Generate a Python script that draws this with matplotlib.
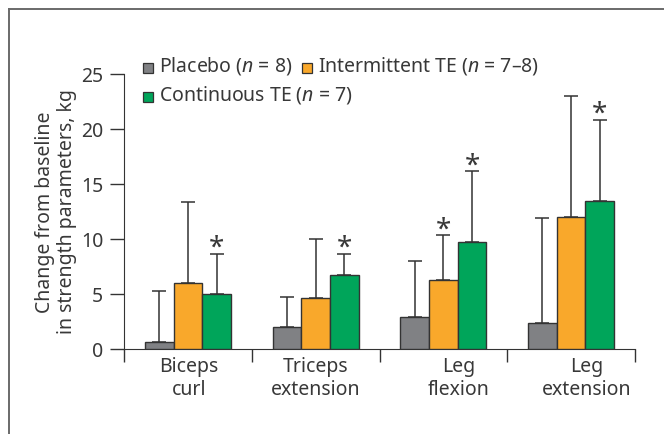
import numpy as np
import matplotlib
matplotlib.use("Agg")
import matplotlib.pyplot as plt
from matplotlib.patches import Rectangle
from matplotlib.lines import Line2D

plt.rcParams['font.family'] = ['Noto Sans', 'DejaVu Sans']
plt.rcParams['mathtext.fontset'] = 'custom'
plt.rcParams['mathtext.rm'] = 'Noto Sans'
plt.rcParams['mathtext.it'] = 'Noto Sans:italic'

# Mean change and SD (kg) per exercise
exercises = ['Biceps\ncurl', 'Triceps\nextension', 'Leg\nflexion', 'Leg\nextension']
placebo = [0.6, 2.0, 2.9, 2.3]
placebo_sd = [4.6, 2.7, 5.1, 9.6]
intermittent = [6.0, 4.6, 6.2, 12.0]
intermittent_sd = [7.3, 5.4, 4.1, 11.0]
continuous = [5.0, 6.7, 9.7, 13.4]
continuous_sd = [3.6, 1.9, 6.4, 7.4]

# significance markers: (group index, exercise index)
stars = [(2, 0), (2, 1), (1, 2), (2, 2), (2, 3)]

colors = ['#808184', '#F9A82B', '#00A55A']
edge = '#333333'
text_col = '#383838'
fs = 14

fig = plt.figure(figsize=(6.64, 4.35), dpi=100)
W, H = 664, 435

# outer frame (left and top edges)
fig.add_artist(Line2D([8.5 / W, 8.5 / W], [0, 1 - 9.5 / H], color='#6a6a6a', lw=1.4,
                      transform=fig.transFigure))
fig.add_artist(Line2D([8.5 / W, 1], [1 - 9.5 / H, 1 - 9.5 / H], color='#6a6a6a', lw=1.4,
                      transform=fig.transFigure))

ax = fig.add_axes([124 / W, 1 - 349.5 / H, (635 - 124) / W, (349.5 - 74.5) / H])

x = np.arange(len(exercises))
width = 0.225
means = [placebo, intermittent, continuous]
sds = [placebo_sd, intermittent_sd, continuous_sd]
for i, (m, s, c) in enumerate(zip(means, sds, colors)):
    pos = x + (i - 1) * width
    ax.bar(pos, m, width, color=c, edgecolor=edge, linewidth=1.0, zorder=3)
    ax.errorbar(pos, m, yerr=[np.zeros(len(m)), s], fmt='none', ecolor=edge,
                elinewidth=1.1, capsize=5, capthick=1.1, zorder=2)

for g, e in stars:
    top = means[g][e] + sds[g][e]
    ax.text(x[e] + (g - 1) * width, top - 0.1, '*', ha='center', va='baseline',
            fontsize=20, color=text_col)

xmin, xmax = -0.5, len(exercises) - 0.5
ax.set_xlim(xmin, xmax)
ax.set_ylim(0, 25)
ax.set_yticks(range(0, 26, 5))
ax.set_xticks(np.linspace(xmin, xmax, 5))
ax.set_xticklabels([])
ax.tick_params(axis='x', direction='out', length=9, width=1, color='#333333')
ax.tick_params(axis='y', direction='out', length=10, width=1, color='#333333',
               labelsize=fs, labelcolor=text_col, pad=5)

label_pos = [0.01, 0.0, 0.12, 0.12]
for xi, lab, dx in zip(x, exercises, label_pos):
    ax.text(xi + dx, -0.7, lab, ha='center', va='top', fontsize=fs, color=text_col,
            linespacing=1.2)

for side in ['top', 'right']:
    ax.spines[side].set_visible(False)
ax.spines['left'].set_color('#333333')
ax.spines['bottom'].set_color('#333333')

fig.text(56 / W, 1 - 212 / H, 'Change from baseline\nin strength parameters, kg',
         rotation=90, ha='center', va='center', fontsize=fs, color=text_col,
         linespacing=1.1)

# legend drawn as boxes and text
legend_items = [
    (143, 69, colors[0], 'Placebo ($n$ = 8)'),
    (302, 69, colors[1], 'Intermittent TE ($n$ = 7–8)'),
    (143, 98, colors[2], 'Continuous TE ($n$ = 7)'),
]
for px, py, c, lab in legend_items:
    fig.add_artist(Rectangle((px / W, 1 - (py + 5) / H), 10 / W, 10 / H, facecolor=c,
                             edgecolor=edge, lw=0.9, transform=fig.transFigure))
    fig.text((px + 16) / W, 1 - (py - 3) / H, lab, ha='left', va='center', fontsize=fs,
             color=text_col)

fig.savefig('out.png', dpi=100)
